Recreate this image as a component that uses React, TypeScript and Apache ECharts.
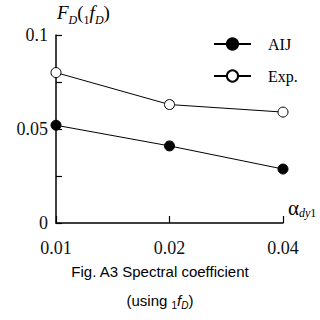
import React, { useEffect, useRef } from "react";
import * as echarts from "echarts";

const categories = ["0.01", "0.02", "0.04"];
const aijValues = [0.052, 0.041, 0.0287];
const expValues = [0.08, 0.063, 0.059];
const yTickLabels = ["0", "0.05", "0.1"];

const SERIF = "Liberation Serif";
const SANS = "Liberation Sans";

export default function App() {
  const ref = useRef<HTMLDivElement>(null);
  useEffect(() => {
    if (!ref.current) return;
    const chart = echarts.init(ref.current, null, { renderer: "svg" });
    chart.setOption({
      animation: false,
      backgroundColor: "#fff",
      textStyle: { fontFamily: SERIF, fontWeight: "normal" },
      grid: { left: 56, right: 37, top: 35, bottom: 97, containLabel: false },
      xAxis: {
        type: "category",
        data: categories,
        boundaryGap: false,
        axisLine: { lineStyle: { color: "#000", width: 1.5 } },
        axisTick: { inside: true, length: 7, lineStyle: { color: "#000", width: 1.2 } },
        axisLabel: { fontFamily: SERIF, fontSize: 18, color: "#111", margin: 16 },
        splitLine: { show: false },
      },
      yAxis: {
        type: "value",
        min: 0,
        max: 0.1,
        interval: 0.025,
        axisLine: { show: true, lineStyle: { color: "#000", width: 1.5 } },
        axisTick: { show: true, inside: true, length: 6, lineStyle: { color: "#000", width: 1.2 } },
        axisLabel: {
          fontFamily: SERIF,
          fontSize: 18,
          color: "#111",
          margin: 8,
          formatter: (v: number) => {
            const r = Math.round(v * 1000) / 1000;
            if (r === 0) return yTickLabels[0];
            if (r === 0.05) return yTickLabels[1];
            if (r === 0.1) return yTickLabels[2];
            return "";
          },
        },
        splitLine: { show: false },
      },
      legend: {
        orient: "vertical",
        left: 208,
        top: 31,
        itemWidth: 37,
        itemHeight: 14,
        itemGap: 16,
        textStyle: { fontFamily: SERIF, fontSize: 16, color: "#000", padding: [0, 0, 0, 12] },
        data: ["AIJ", "Exp."],
      },
      series: [
        {
          name: "AIJ",
          type: "line",
          data: aijValues,
          symbol: "circle",
          symbolSize: 10,
          itemStyle: { color: "#000", borderColor: "#000", borderWidth: 1 },
          lineStyle: { color: "#000", width: 1 },
        },
        {
          name: "Exp.",
          type: "line",
          data: expValues,
          symbol: "circle",
          symbolSize: 10,
          itemStyle: { color: "#fff", borderColor: "#000", borderWidth: 1 },
          lineStyle: { color: "#000", width: 1 },
        },
      ],
      graphic: [
        {
          type: "text",
          left: 57,
          top: 3,
          style: {
            text: "{m|F}{s|D}{r|(}{n|1}{m|f}{s|D}{r|)}",
            rich: {
              m: { fontFamily: SERIF, fontStyle: "italic", fontSize: 19, color: "#000", lineHeight: 26 },
              r: { fontFamily: SERIF, fontSize: 19, color: "#000", lineHeight: 26 },
              s: { fontFamily: SERIF, fontStyle: "italic", fontSize: 12, color: "#000", lineHeight: 12, verticalAlign: "bottom" },
              n: { fontFamily: SERIF, fontSize: 12, color: "#000", lineHeight: 12, verticalAlign: "bottom" },
            },
          },
        },
        {
          type: "text",
          left: 288,
          top: 197,
          style: {
            text: "{m|α}{s|dy}{n|1}",
            rich: {
              m: { fontFamily: SERIF, fontSize: 21, color: "#000", lineHeight: 22 },
              s: { fontFamily: SERIF, fontStyle: "italic", fontSize: 12, color: "#000", lineHeight: 12, verticalAlign: "bottom" },
              n: { fontFamily: SERIF, fontSize: 12, color: "#000", lineHeight: 12, verticalAlign: "bottom" },
            },
          },
        },
        {
          type: "text",
          x: 160,
          y: 271,
          style: {
            text: "Fig. A3 Spectral coefficient",
            fontFamily: SANS,
            fontSize: 15,
            fill: "#000",
            align: "center",
            verticalAlign: "middle",
          },
        },
        {
          type: "text",
          x: 160,
          y: 300,
          style: {
            text: "{r|(using }{s|1}{i|f}{si|D}{r|)}",
            align: "center",
            verticalAlign: "middle",
            rich: {
              r: { fontFamily: SANS, fontSize: 15, color: "#000", lineHeight: 20 },
              i: { fontFamily: SANS, fontStyle: "italic", fontSize: 15, color: "#000", lineHeight: 20 },
              s: { fontFamily: SANS, fontSize: 10, color: "#000", lineHeight: 10, verticalAlign: "bottom" },
              si: { fontFamily: SANS, fontStyle: "italic", fontSize: 10, color: "#000", lineHeight: 10, verticalAlign: "bottom" },
            },
          },
        },
      ],
    });
    return () => chart.dispose();
  }, []);
  return <div ref={ref} style={{ width: 320, height: 320, position: "absolute", left: 0, top: 0 }} />;
}
